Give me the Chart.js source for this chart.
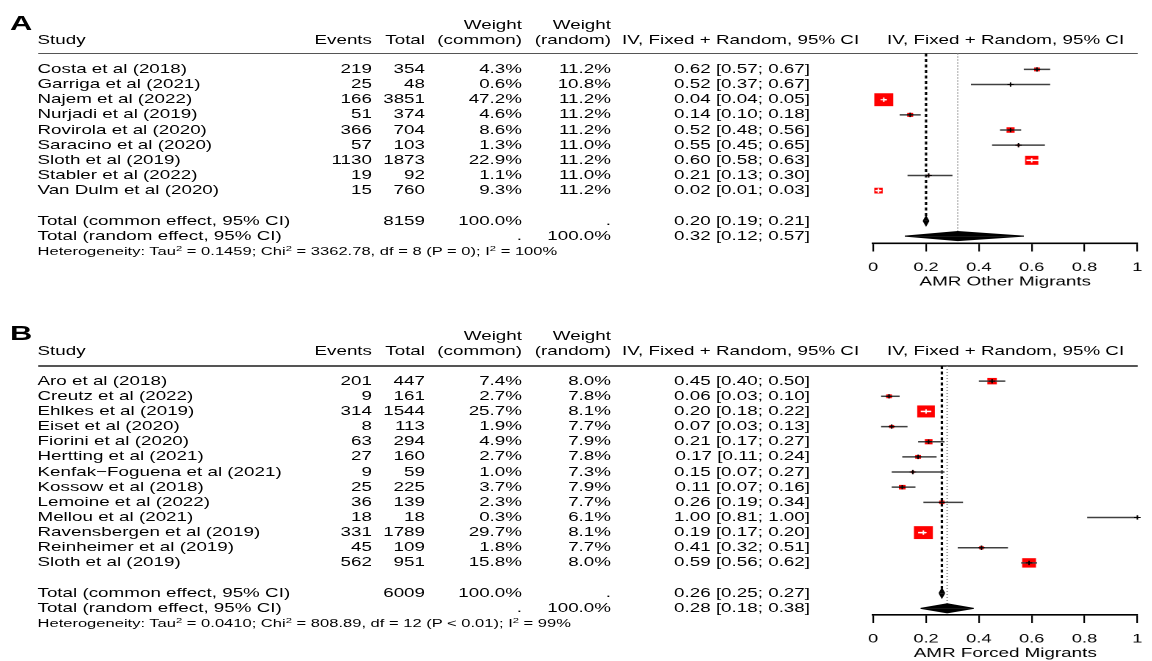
<!DOCTYPE html>
<html>
<head>
<meta charset="utf-8">
<script src="https://cdn.jsdelivr.net/npm/chart.js@4.4.1/dist/chart.umd.min.js"></script>
<style>
  html, body { margin: 0; padding: 0; background: #fff; width: 1152px; height: 661px; overflow: hidden; }
  #page { position: absolute; left: 0; top: 0; height: 661px; transform-origin: 0 0;
          font-family: 'Liberation Sans', Arial, Helvetica, sans-serif; color: #000; }
  .t { position: absolute; white-space: nowrap; }
  .b { font-weight: bold; }
  .rule { position: absolute; height: 1.6px; background: #555; }
  sup { font-size: 0.68em; line-height: 0; vertical-align: 0.5em; }
  canvas { position: absolute; }
</style>
</head>
<body>
<div id="page"></div>
<script>
// ---- Panel A: other migrants ----
const studiesA = ['Costa et al (2018)', 'Garriga et al (2021)', 'Najem et al (2022)', 'Nurjadi et al (2019)',
  'Rovirola et al (2020)', 'Saracino et al (2020)', 'Sloth et al (2019)', 'Stabler et al (2022)', 'Van Dulm et al (2020)'];
const eventsA = [219, 25, 166, 51, 366, 57, 1130, 19, 15];
const totalsA = [354, 48, 3851, 374, 704, 103, 1873, 92, 760];
const weightCommonA = [4.3, 0.6, 47.2, 4.6, 8.6, 1.3, 22.9, 1.1, 9.3];
const weightRandomA = [11.2, 10.8, 11.2, 11.2, 11.2, 11.0, 11.2, 11.0, 11.2];
const estA = [0.62, 0.52, 0.04, 0.14, 0.52, 0.55, 0.60, 0.21, 0.02];
const lowerA = [0.57, 0.37, 0.04, 0.10, 0.48, 0.45, 0.58, 0.13, 0.01];
const upperA = [0.67, 0.67, 0.05, 0.18, 0.56, 0.65, 0.63, 0.30, 0.03];
const commonA = [0.20, 0.19, 0.21];   // estimate, lower, upper
const randomA = [0.32, 0.12, 0.57];
const nTotalA = 8159;
const hetA = ['0.1459', '3362.78', 8, 'P = 0', 100];   // tau2, chi2, df, p, I2

// ---- Panel B: forced migrants ----
const studiesB = ['Aro et al (2018)', 'Creutz et al (2022)', 'Ehlkes et al (2019)', 'Eiset et al (2020)',
  'Fiorini et al (2020)', 'Hertting et al (2021)', 'Kenfak\u2212Foguena et al (2021)', 'Kossow et al (2018)',
  'Lemoine et al (2022)', 'Mellou et al (2021)', 'Ravensbergen et al (2019)', 'Reinheimer et al (2019)', 'Sloth et al (2019)'];
const eventsB = [201, 9, 314, 8, 63, 27, 9, 25, 36, 18, 331, 45, 562];
const totalsB = [447, 161, 1544, 113, 294, 160, 59, 225, 139, 18, 1789, 109, 951];
const weightCommonB = [7.4, 2.7, 25.7, 1.9, 4.9, 2.7, 1.0, 3.7, 2.3, 0.3, 29.7, 1.8, 15.8];
const weightRandomB = [8.0, 7.8, 8.1, 7.7, 7.9, 7.8, 7.3, 7.9, 7.7, 6.1, 8.1, 7.7, 8.0];
const estB = [0.45, 0.06, 0.20, 0.07, 0.21, 0.17, 0.15, 0.11, 0.26, 1.00, 0.19, 0.41, 0.59];
const lowerB = [0.40, 0.03, 0.18, 0.03, 0.17, 0.11, 0.07, 0.07, 0.19, 0.81, 0.17, 0.32, 0.56];
const upperB = [0.50, 0.10, 0.22, 0.13, 0.27, 0.24, 0.27, 0.16, 0.34, 1.00, 0.20, 0.51, 0.62];
const commonB = [0.26, 0.25, 0.27];
const randomB = [0.28, 0.18, 0.38];
const nTotalB = 6009;
const hetB = ['0.0410', '808.89', 12, 'P < 0.01', 99];

const xTicks = [0, 0.2, 0.4, 0.6, 0.8, 1];

// ---- layout ----
const S = 1.47;                 // the figure is laid out narrow, then widened
const W = 1152 / S;
const FONT = "'Liberation Sans', Arial, Helvetica, sans-serif";
const FS = 12.8;
const page = document.getElementById('page');
page.style.width = W + 'px';
page.style.transform = 'scaleX(' + S + ')';

// column anchors on the final page
const X = { name: 37.5, events: 372, total: 425, wCom: 522, wRan: 611, ciRight: 810,
            ciHead: 622, plotL: 873.5, plotR: 1137.7 };
const BOX_MAX = 12.9;           // side of the heaviest study's square
const DH = 0.3;                 // half height of the summary diamonds (rows)
const AXIS_H = 46;
const SIDE_PAD = 14;            // room for the end tick labels

function addText(html, x, y, align, size, cls) {
  const d = document.createElement('div');
  d.className = 't' + (cls ? ' ' + cls : '');
  d.style.fontSize = size + 'px';
  d.style.lineHeight = size + 'px';
  d.style.top = (y - size / 2) + 'px';
  const xd = x / S;
  if (align === 'right') d.style.right = (W - xd) + 'px';
  else if (align === 'center') { d.style.left = xd + 'px'; d.style.transform = 'translateX(-50%)'; }
  else d.style.left = xd + 'px';
  d.innerHTML = html;
  page.appendChild(d);
}

const pct = v => v.toFixed(1) + '%';
const ci = (e, l, h) => e.toFixed(2) + ' [' + l.toFixed(2) + '; ' + h.toFixed(2) + ']';

function drawPanel(p) {
  const n = p.studies.length;
  const rowCommon = n + 1, rowRandom = n + 2;
  const rowPx = (p.bottom - p.top) / (p.yMax - p.yMin);
  const yOf = r => p.top + (r - p.yMin) * rowPx;

  addText(p.letter, 10, p.letterY, 'left', 21, 'b');

  // column headers
  addText('Weight', X.wCom, p.head1Y, 'right', FS);
  addText('Weight', X.wRan, p.head1Y, 'right', FS);
  addText('Study', X.name, p.head2Y, 'left', FS);
  addText('Events', X.events, p.head2Y, 'right', FS);
  addText('Total', X.total, p.head2Y, 'right', FS);
  addText('(common)', X.wCom, p.head2Y, 'right', FS);
  addText('(random)', X.wRan, p.head2Y, 'right', FS);
  addText('IV, Fixed + Random, 95% CI', X.ciHead, p.head2Y, 'left', FS);
  addText('IV, Fixed + Random, 95% CI', (X.plotL + X.plotR) / 2, p.head2Y, 'center', FS);

  const rule = document.createElement('div');
  rule.className = 'rule';
  rule.style.left = (X.name / S) + 'px';
  rule.style.width = ((X.plotR - X.name) / S) + 'px';
  rule.style.top = (p.top - 0.8) + 'px';
  page.appendChild(rule);

  // study rows
  for (let i = 0; i < n; i++) {
    const y = yOf(i);
    addText(p.studies[i], X.name, y, 'left', FS);
    addText(String(p.events[i]), X.events, y, 'right', FS);
    addText(String(p.totals[i]), X.total, y, 'right', FS);
    addText(pct(p.wCom[i]), X.wCom, y, 'right', FS);
    addText(pct(p.wRan[i]), X.wRan, y, 'right', FS);
    addText(ci(p.est[i], p.lo[i], p.hi[i]), X.ciRight, y, 'right', FS);
  }

  // pooled rows
  let y = yOf(rowCommon);
  addText('Total (common effect, 95% CI)', X.name, y, 'left', FS);
  addText(String(p.nTotal), X.total, y, 'right', FS);
  addText(pct(100), X.wCom, y, 'right', FS);
  addText('.', X.wRan, y, 'right', FS);
  addText(ci(p.common[0], p.common[1], p.common[2]), X.ciRight, y, 'right', FS);
  y = yOf(rowRandom);
  addText('Total (random effect, 95% CI)', X.name, y, 'left', FS);
  addText('.', X.wCom, y, 'right', FS);
  addText(pct(100), X.wRan, y, 'right', FS);
  addText(ci(p.random[0], p.random[1], p.random[2]), X.ciRight, y, 'right', FS);

  const h = p.het;
  addText('Heterogeneity: Tau<sup>2</sup> = ' + h[0] + '; Chi<sup>2</sup> = ' + h[1] + ', df = ' + h[2] +
          ' (' + h[3] + '); I<sup>2</sup> = ' + h[4] + '%', X.name, p.hetY, 'left', 11.25);

  // ---- forest plot ----
  const cv = document.createElement('canvas');
  const cLeft = X.plotL / S - SIDE_PAD;
  const cW = Math.ceil((X.plotR - X.plotL) / S + 2 * SIDE_PAD);
  cv.width = cW; cv.height = p.canvasH;
  cv.style.left = cLeft + 'px';
  cv.style.top = p.canvasTop + 'px';
  page.appendChild(cv);

  const padL = SIDE_PAD;
  const padR = cLeft + cW - X.plotR / S;
  const padT = p.top - p.canvasTop;
  const padB = p.canvasH - (p.bottom - p.canvasTop) - AXIS_H;

  const wMax = Math.max(...p.wCom);
  const side = p.wCom.map(w => BOX_MAX * Math.sqrt(w / wMax));
  const xPerPx = 1 / ((X.plotR - X.plotL) / S);
  const inside = p.est.map((e, i) => (p.hi[i] - p.lo[i]) / 2 <= side[i] / 2 * xPerPx + 0.002);
  const pts = p.est.map((e, i) => ({ x: e, y: i }));

  const ds = [];
  // estimate markers (top layer)
  ds.push({ data: pts, showLine: false, pointStyle: 'cross', pointRadius: 2.2,
            pointBorderWidth: 1, pointBorderColor: inside.map(v => v ? '#fff' : '#000'),
            pointBackgroundColor: 'rgba(0,0,0,0)' });
  // confidence intervals
  p.est.forEach((e, i) => ds.push({
    data: [{ x: p.lo[i], y: i }, { x: p.hi[i], y: i }], showLine: true, pointRadius: 0,
    borderColor: inside[i] ? '#fff' : '#404040', borderWidth: 1.5 }));
  // weight squares
  ds.push({ data: pts, showLine: false, pointStyle: 'rect',
            pointRadius: side.map(s => s / Math.SQRT2), pointBackgroundColor: '#ff0000',
            pointBorderWidth: 0 });
  // pooled diamonds
  [[p.common, rowCommon], [p.random, rowRandom]].forEach(([v, r]) => {
    [-DH, DH].forEach(d => ds.push({
      data: [{ x: v[1], y: r }, { x: v[0], y: r + d }, { x: v[2], y: r }], showLine: true,
      pointRadius: 0, borderColor: '#000', borderWidth: 1, backgroundColor: '#000',
      fill: { value: r }, tension: 0 }));
  });
  // pooled estimate reference lines
  ds.push({ data: [{ x: p.common[0], y: p.yMin }, { x: p.common[0], y: rowCommon - DH }], showLine: true,
            pointRadius: 0, borderColor: '#000', borderWidth: 1.6, borderDash: [3, 2.5] });
  ds.push({ data: [{ x: p.random[0], y: p.yMin }, { x: p.random[0], y: rowRandom - DH }], showLine: true,
            pointRadius: 0, borderColor: '#888', borderWidth: 1, borderDash: [1, 2] });
  ds.forEach(d => { d.clip = false; });

  new Chart(cv, {
    type: 'scatter',
    data: { datasets: ds },
    options: {
      responsive: false, animation: false, devicePixelRatio: 2, events: [],
      layout: { padding: { left: padL, right: padR, top: padT, bottom: padB } },
      plugins: { legend: { display: false }, tooltip: { enabled: false } },
      scales: {
        x: {
          type: 'linear', position: 'bottom', min: xTicks[0], max: xTicks[xTicks.length - 1],
          afterFit: s => { s.height = AXIS_H; },
          afterBuildTicks: s => { s.ticks = xTicks.map(v => ({ value: v })); },
          ticks: { color: '#000', padding: 8.5, maxRotation: 0, autoSkip: false,
                   font: { family: FONT, size: 12.4 },
                   callback: v => String(Math.round(v * 10) / 10) },
          grid: { drawOnChartArea: false, drawTicks: true, tickLength: 8, color: '#000', lineWidth: 1.1 },
          border: { display: true, color: '#000', width: 1.6 },
          title: { display: true, text: p.xTitle, color: '#000', font: { family: FONT, size: FS },
                   padding: { top: 0, bottom: 0 } }
        },
        y: { type: 'linear', reverse: true, min: p.yMin, max: p.yMax, display: false }
      }
    }
  });
}

drawPanel({
  letter: 'A', letterY: 22.5, head1Y: 25, head2Y: 40, hetY: 251.7,
  top: 53.5, bottom: 243.5, yMin: -1.05, yMax: 11.49, canvasTop: 0, canvasH: 300,
  studies: studiesA, events: eventsA, totals: totalsA, wCom: weightCommonA, wRan: weightRandomA,
  est: estA, lo: lowerA, hi: upperA, common: commonA, random: randomA, nTotal: nTotalA, het: hetA,
  xTitle: 'AMR Other Migrants'
});

drawPanel({
  letter: 'B', letterY: 332, head1Y: 336.5, head2Y: 351.5, hetY: 623.5,
  top: 366, bottom: 615, yMin: -1.0, yMax: 15.44, canvasTop: 310, canvasH: 351,
  studies: studiesB, events: eventsB, totals: totalsB, wCom: weightCommonB, wRan: weightRandomB,
  est: estB, lo: lowerB, hi: upperB, common: commonB, random: randomB, nTotal: nTotalB, het: hetB,
  xTitle: 'AMR Forced Migrants'
});
</script>
</body>
</html>
